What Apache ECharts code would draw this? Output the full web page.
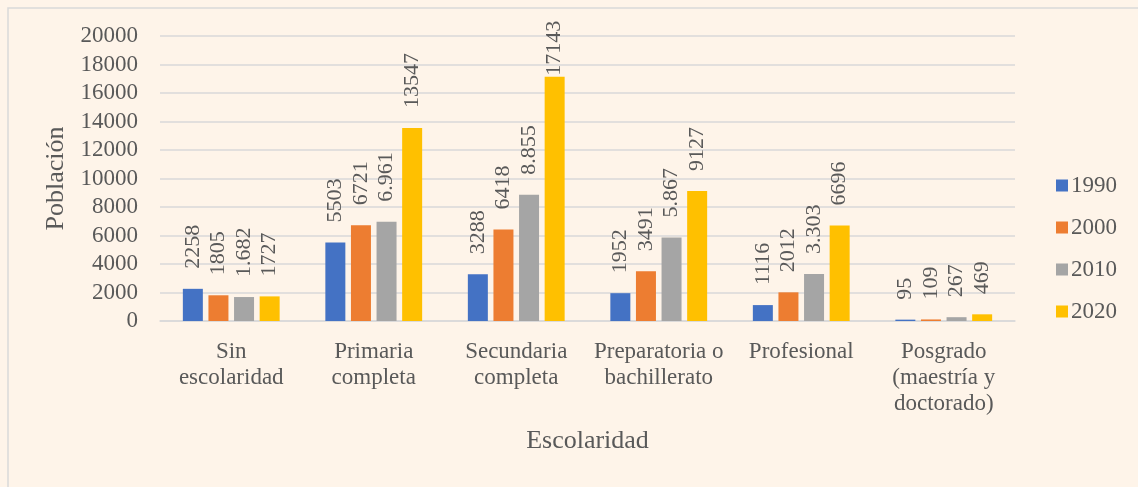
<!DOCTYPE html>
<html>
<head>
<meta charset="utf-8">
<script src="https://cdn.jsdelivr.net/npm/echarts@6/dist/echarts.min.js"></script>
<style>
  html, body { margin: 0; padding: 0; background: #FEF4E9; }
  #chart { width: 1138px; height: 487px; }
</style>
</head>
<body>
<div id="chart"></div>
<script>
var categories = ['Sin\nescolaridad', 'Primaria\ncompleta', 'Secundaria\ncompleta',
  'Preparatoria o\nbachillerato', 'Profesional', 'Posgrado\n(maestría y\ndoctorado)'];
var seriesNames = ['1990', '2000', '2010', '2020'];
var values1990 = [2258, 5503, 3288, 1952, 1116, 95];
var values2000 = [1805, 6721, 6418, 3491, 2012, 109];
var values2010 = [1682, 6961, 8855, 5867, 3303, 267];
var values2020 = [1727, 13547, 17143, 9127, 6696, 469];
// labels as printed in the source (2010 uses a dot separator)
var labels2010 = ['1.682', '6.961', '8.855', '5.867', '3.303', '267'];
var colors = ['#4472C4', '#ED7D31', '#A5A5A5', '#FFC000'];

var font = 'Liberation Serif, Times New Roman, serif';
var textColor = '#595959';

function makeSeries(name, data, idx, labels) {
    // very tall bars: label gets pushed closer so it stays inside the chart
    var items = data.map(function (v) {
        return v > 16000 ? { value: v, label: { distance: 1 } } : v;
    });
    return {
        name: name,
        type: 'bar',
        data: items,
        barWidth: 20,
        barGap: '28%',
        itemStyle: { color: colors[idx] },
        label: {
            show: true,
            position: 'top',
            rotate: 90,
            align: 'left',
            verticalAlign: 'middle',
            distance: 20,
            fontFamily: font,
            fontSize: 22,
            color: textColor,
            formatter: function (p) {
                return labels ? labels[p.dataIndex] : String(p.value);
            }
        }
    };
}

var myChart = echarts.init(document.getElementById('chart'));
var option = {
    backgroundColor: '#FEF4E9',
    animation: false,
    textStyle: { fontFamily: font },
    graphic: [{
        type: 'rect',
        shape: { x: 8, y: 8, width: 1140, height: 490 },
        style: { fill: 'none', stroke: '#D9D9D9', lineWidth: 1.5 },
        silent: true
    }],
    grid: { left: 160, right: 123, top: 36, bottom: 166, containLabel: false },
    legend: {
        orient: 'vertical',
        left: 1051,
        top: 169,
        itemGap: 19,
        itemWidth: 12,
        itemHeight: 12,
        icon: 'rect',
        data: seriesNames,
        textStyle: { fontFamily: font, fontSize: 23, color: textColor, padding: [0, 0, 0, -2] }
    },
    xAxis: {
        type: 'category',
        data: categories,
        name: 'Escolaridad',
        nameLocation: 'middle',
        nameGap: 107,
        nameTextStyle: { fontFamily: font, fontSize: 26, color: textColor },
        axisLine: { lineStyle: { color: '#D9D9D9', width: 1.5 } },
        axisTick: { show: false },
        axisLabel: {
            interval: 0,
            margin: 18,
            fontFamily: font,
            fontSize: 23,
            lineHeight: 26,
            color: textColor
        }
    },
    yAxis: {
        type: 'value',
        min: 0,
        max: 20000,
        interval: 2000,
        name: 'Población',
        nameLocation: 'middle',
        nameGap: 82,
        nameTextStyle: { fontFamily: font, fontSize: 26, color: textColor },
        axisLine: { show: false },
        axisTick: { show: false },
        axisLabel: {
            margin: 22, fontFamily: font, fontSize: 23, color: textColor,
            formatter: function (v) { return String(v); }
        },
        splitLine: { lineStyle: { color: '#D9D9D9', width: 1.5 } }
    },
    series: [
        makeSeries('1990', values1990, 0),
        makeSeries('2000', values2000, 1),
        makeSeries('2010', values2010, 2, labels2010),
        makeSeries('2020', values2020, 3)
    ]
};
myChart.setOption(option);
</script>
</body>
</html>
